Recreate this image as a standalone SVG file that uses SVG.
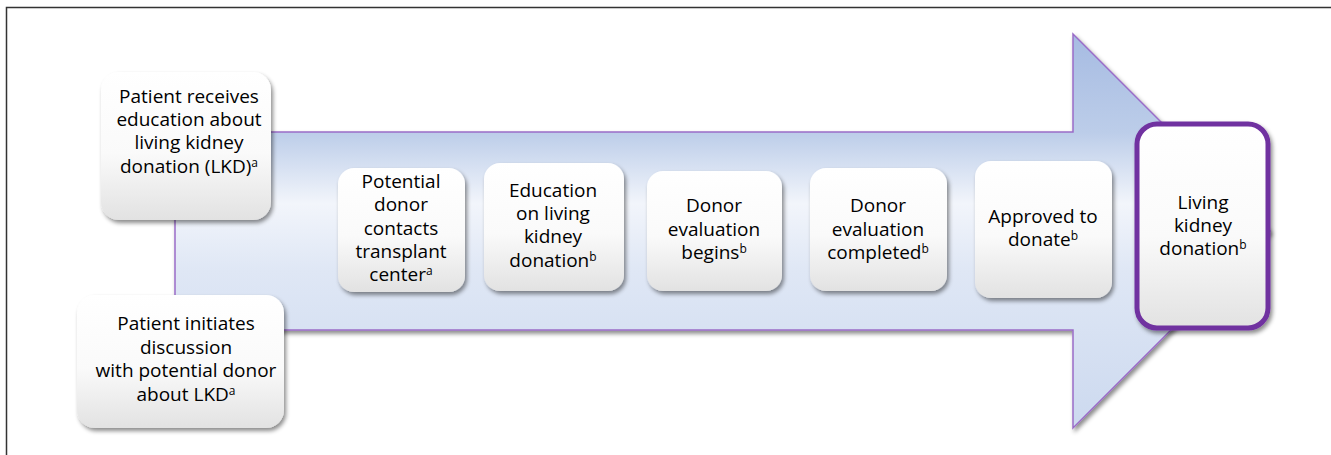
<svg xmlns="http://www.w3.org/2000/svg" width="1331" height="455" viewBox="0 0 1331 455">
<defs>
<linearGradient id="arrowGrad" gradientUnits="userSpaceOnUse" x1="0" y1="34" x2="0" y2="428">
<stop offset="0" stop-color="#a6bbe2"/>
<stop offset="0.25" stop-color="#bccde9"/>
<stop offset="0.43" stop-color="#f2f5fb"/>
<stop offset="0.6" stop-color="#dfe7f5"/>
<stop offset="1" stop-color="#ccd9ef"/>
</linearGradient>
<linearGradient id="boxGrad" x1="0" y1="0" x2="0" y2="1">
<stop offset="0" stop-color="#ffffff"/>
<stop offset="0.55" stop-color="#fafafa"/>
<stop offset="1" stop-color="#e2e2e2"/>
</linearGradient>
<filter id="shadow" x="-10%" y="-10%" width="125%" height="130%">
<feDropShadow dx="2" dy="3" stdDeviation="2" flood-color="#000" flood-opacity="0.45"/>
</filter>
</defs>
<style>
.box{fill:url(#boxGrad);filter:url(#shadow);}
.final{fill:url(#boxGrad);stroke:#7030a0;stroke-width:5;filter:url(#shadow);}
text{font-family:"Open Sans","Liberation Sans",sans-serif;font-size:19px;fill:#000;text-anchor:middle;}
.sup{font-size:12px;}
</style>
<rect x="6.5" y="7.5" width="1340" height="470" fill="#fff" stroke="#333" stroke-width="1.5"/>
<g id="connectors">
<path d="M175,132 H1073 V34 L1270,231 L1073,428 V330 H175 Z" fill="url(#arrowGrad)" stroke="#9a6cc8" stroke-width="1.5" filter="url(#shadow)"/>
</g>
<g id="n1">
<rect class="box" x="101" y="72" width="170" height="148" rx="18"/>
<text x="189" y="103">Patient receives</text>
<text x="189" y="126">education about</text>
<text x="189" y="149">living kidney</text>
<text x="189" y="173">donation (LKD)<tspan class="sup" dy="-6">a</tspan></text>
</g>
<g id="n2">
<rect class="box" x="77" y="295" width="207" height="133" rx="18"/>
<text x="186" y="330">Patient initiates</text>
<text x="186" y="354">discussion</text>
<text x="186" y="377">with potential donor</text>
<text x="186" y="401">about LKD<tspan class="sup" dy="-6">a</tspan></text>
</g>
<g id="n3">
<rect class="box" x="338" y="168" width="127" height="124" rx="16"/>
<text x="401" y="188">Potential</text>
<text x="401" y="211">donor</text>
<text x="401" y="235">contacts</text>
<text x="401" y="258">transplant</text>
<text x="401" y="281">center<tspan class="sup" dy="-6">a</tspan></text>
</g>
<g id="n4">
<rect class="box" x="484" y="163" width="140" height="128" rx="16"/>
<text x="553" y="197">Education</text>
<text x="553" y="220">on living</text>
<text x="553" y="243">kidney</text>
<text x="553" y="267">donation<tspan class="sup" dy="-6">b</tspan></text>
</g>
<g id="n5">
<rect class="box" x="647" y="171" width="135" height="120" rx="16"/>
<text x="714" y="212">Donor</text>
<text x="714" y="236">evaluation</text>
<text x="714" y="259">begins<tspan class="sup" dy="-6">b</tspan></text>
</g>
<g id="n6">
<rect class="box" x="810" y="168" width="137" height="123" rx="16"/>
<text x="878" y="212">Donor</text>
<text x="878" y="236">evaluation</text>
<text x="878" y="259">completed<tspan class="sup" dy="-6">b</tspan></text>
</g>
<g id="n7">
<rect class="box" x="975" y="161" width="137" height="137" rx="16"/>
<text x="1043" y="223">Approved to</text>
<text x="1043" y="246">donate<tspan class="sup" dy="-6">b</tspan></text>
</g>
<g id="n8">
<rect class="final" x="1137" y="124" width="131" height="204" rx="20"/>
<text x="1203" y="209">Living</text>
<text x="1203" y="232">kidney</text>
<text x="1203" y="255">donation<tspan class="sup" dy="-6">b</tspan></text>
</g>
</svg>
